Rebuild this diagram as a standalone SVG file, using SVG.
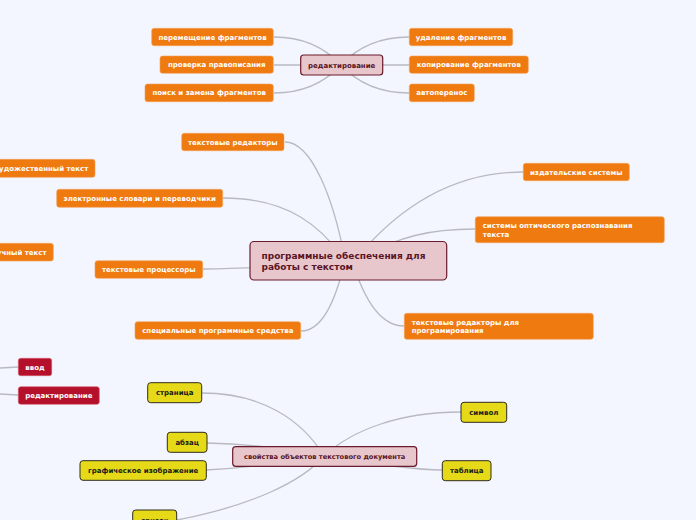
<svg xmlns="http://www.w3.org/2000/svg" width="696" height="520" viewBox="0 0 696 520">
<style>
text{font-family:"DejaVu Sans",Verdana,sans-serif;font-weight:bold;}
.c{fill:none;stroke:#b9b9c1;stroke-width:1.3;}
.o rect{fill:#ee7a10;stroke:#f3a25a;stroke-width:0.6;}
.o text{fill:#ffffff;font-size:7px;}
.r rect{fill:#b4102b;stroke:#d65a6c;stroke-width:0.6;}
.r text{fill:#ffffff;font-size:7px;}
.y rect{fill:#e6da18;stroke:#2e2a20;stroke-width:1;}
.y text{fill:#1a1a1a;font-size:7px;}
.p rect{fill:#e8c7cc;stroke:#6a1a2c;stroke-width:1.2;}
.p text{fill:#5a1425;}
.m{text-anchor:middle;}
</style>
<rect x="0" y="0" width="696" height="520" fill="#f3f6fe"/>
<g id="connectors">
<path class="c" d="M274,37 Q315,37 341,65"/>
<path class="c" d="M274,65 L341,65"/>
<path class="c" d="M274,93 Q315,93 341,65"/>
<path class="c" d="M409,37 Q367,37 341,65"/>
<path class="c" d="M409,65 L341,65"/>
<path class="c" d="M409,93 Q367,93 341,65"/>
<path class="c" d="M285,142 C312,142 334,200 345,260"/>
<path class="c" d="M223,198 C290,198 322,228 345,260"/>
<path class="c" d="M203,269 Q230,269 348,264"/>
<path class="c" d="M301,331 C322,331 336,300 345,260"/>
<path class="c" d="M523,172 C455,172 400,205 355,260"/>
<path class="c" d="M475,229 C430,229 400,236 355,260"/>
<path class="c" d="M404,326 C380,326 364,300 352,260"/>
<path class="c" d="M202,393 C262,393 302,420 324,456"/>
<path class="c" d="M207,443 Q262,444 324,456"/>
<path class="c" d="M206,470 Q262,467 324,456"/>
<path class="c" d="M177,520 C250,506 302,482 324,456"/>
<path class="c" d="M461,412 C400,412 352,430 324,456"/>
<path class="c" d="M442,470 Q410,470 324,456"/>
<path class="c" d="M0,368 L18,367"/>
<path class="c" d="M0,394 L18,395"/>
</g>
<g id="n-edit" class="p"><rect x="300.7" y="55" width="82" height="20" rx="3"/><text class="m" x="341.7" y="67.5" font-size="7">редактирование</text></g>
<g id="n-move" class="o"><rect x="151.7" y="28.3" width="121.6" height="17.4" rx="2.5"/><text class="m" x="212.5" y="39.5">перемещение фрагментов</text></g>
<g id="n-spell" class="o"><rect x="160" y="56" width="113.3" height="17.3" rx="2.5"/><text class="m" x="216.7" y="67.2">проверка правописания</text></g>
<g id="n-find" class="o"><rect x="145" y="84" width="128.3" height="17.7" rx="2.5"/><text class="m" x="209.2" y="95.3">поиск и замена фрагментов</text></g>
<g id="n-del" class="o"><rect x="409.3" y="28.3" width="103.4" height="17.4" rx="2.5"/><text class="m" x="461" y="39.5">удаление фрагментов</text></g>
<g id="n-copy" class="o"><rect x="409.3" y="56" width="119" height="17.3" rx="2.5"/><text class="m" x="468.8" y="67.2">копирование фрагментов</text></g>
<g id="n-hyph" class="o"><rect x="409.3" y="84" width="65" height="17.7" rx="2.5"/><text class="m" x="441.8" y="95.3">автоперенос</text></g>
<g id="n-main" class="p"><rect x="250" y="241.5" width="196.7" height="38.5" rx="4"/><text x="261.5" y="258.5" font-size="9">программные обеспечения для</text><text x="261.5" y="270.3" font-size="9">работы с текстом</text></g>
<g id="n-ted" class="o"><rect x="181.7" y="133.3" width="102.3" height="17.4" rx="2.5"/><text class="m" x="232.8" y="144.5">текстовые редакторы</text></g>
<g id="n-art" class="o"><rect x="-40" y="159.3" width="135" height="18" rx="2.5"/><text x="88.3" y="170.8" text-anchor="end">художественный текст</text></g>
<g id="n-dict" class="o"><rect x="56.7" y="189.3" width="166" height="18" rx="2.5"/><text class="m" x="139.7" y="200.8">электронные словари и переводчики</text></g>
<g id="n-sci" class="o"><rect x="-30" y="243.3" width="83.3" height="17.7" rx="2.5"/><text x="46.5" y="254.7" text-anchor="end">научный текст</text></g>
<g id="n-proc" class="o"><rect x="95" y="260.7" width="107.7" height="17.6" rx="2.5"/><text class="m" x="148.8" y="272">текстовые процессоры</text></g>
<g id="n-spec" class="o"><rect x="135" y="321.7" width="165.7" height="17.6" rx="2.5"/><text class="m" x="217.8" y="333">специальные программные средства</text></g>
<g id="n-pub" class="o"><rect x="523.3" y="163.3" width="106" height="17.4" rx="2.5"/><text class="m" x="576.3" y="174.5">издательские системы</text></g>
<g id="n-ocr" class="o"><rect x="475.3" y="216.7" width="189" height="26" rx="2.5"/><text x="482.7" y="228">системы оптического распознавания</text><text x="482.7" y="236.7">текста</text></g>
<g id="n-prog" class="o"><rect x="404.3" y="313.3" width="189" height="26" rx="2.5"/><text x="411.7" y="324.6">текстовые редакторы для</text><text x="411.7" y="333.2">програмирования</text></g>
<g id="n-props" class="p"><rect x="232.7" y="446.7" width="184" height="19.6" rx="3"/><text class="m" x="324.7" y="459" font-size="6.7">свойства объектов текстового документа</text></g>
<g id="n-page" class="y"><rect x="147.7" y="382.7" width="54" height="20" rx="3"/><text class="m" x="174.7" y="395.2">страница</text></g>
<g id="n-para" class="y"><rect x="167.3" y="432.3" width="39.7" height="20" rx="3"/><text class="m" x="187.2" y="444.8">абзац</text></g>
<g id="n-img" class="y"><rect x="80" y="460.7" width="126.3" height="19.6" rx="3"/><text class="m" x="143.2" y="473">графическое изображение</text></g>
<g id="n-list" class="y"><rect x="132.7" y="510" width="44" height="20" rx="3"/><text class="m" x="154.7" y="522.5">список</text></g>
<g id="n-sym" class="y"><rect x="461" y="402.3" width="45.7" height="20" rx="3"/><text class="m" x="483.8" y="414.8">символ</text></g>
<g id="n-table" class="y"><rect x="442.3" y="460.7" width="48.7" height="20" rx="3"/><text class="m" x="466.7" y="473.2">таблица</text></g>
<g id="n-input" class="r"><rect x="18.3" y="358.3" width="33.4" height="17.4" rx="2.5"/><text class="m" x="35" y="369.5">ввод</text></g>
<g id="n-redit" class="r"><rect x="18.3" y="386.7" width="81" height="17.6" rx="2.5"/><text class="m" x="58.8" y="398">редактирование</text></g>
</svg>
